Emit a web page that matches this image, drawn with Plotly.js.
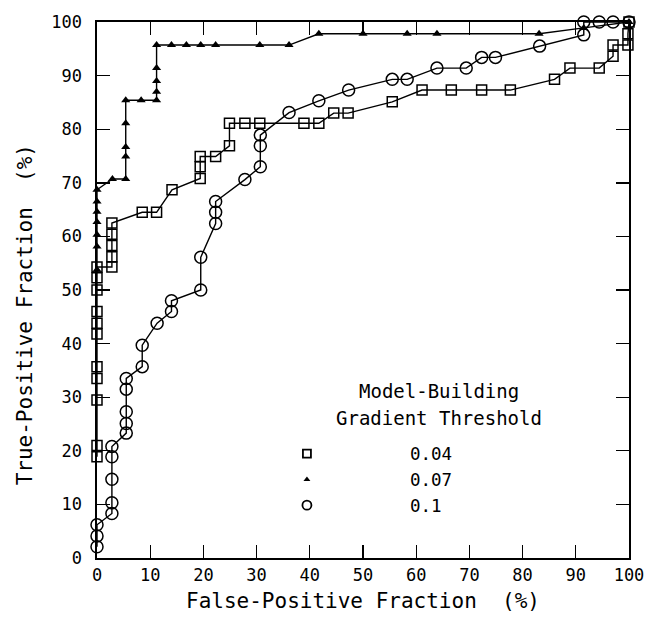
<!DOCTYPE html>
<html>
<head>
<meta charset="utf-8">
<script src="https://cdn.plot.ly/plotly-3.0.1.min.js"></script>
<style>html,body{margin:0;padding:0;background:#fff;}#chart{width:647px;height:619px;}</style>
</head>
<body>
<div id="chart"></div>
<script>
// Threshold 0.04 (open squares)
const sqX = [0, 0, 0, 0, 0, 0, 0, 0, 0, 0, 0, 2.8, 2.8, 2.8, 2.8, 2.8, 8.5, 11.2, 14.1, 19.4, 19.4, 19.4, 22.3, 24.9, 24.9, 27.8, 30.6, 38.9, 41.7, 44.5, 47.2, 55.5, 61.1, 66.6, 72.3, 77.7, 86.0, 88.9, 94.4, 97.0, 97.0, 99.8, 99.8, 100];
const sqY = [18.9, 21.0, 29.5, 33.5, 35.7, 41.8, 43.8, 46.0, 50.0, 52.3, 54.3, 54.3, 56.2, 58.3, 60.4, 62.5, 64.5, 64.5, 68.7, 70.8, 73.0, 74.9, 74.9, 76.9, 81.1, 81.1, 81.1, 81.1, 81.1, 83.0, 83.0, 85.1, 87.3, 87.3, 87.3, 87.3, 89.3, 91.4, 91.4, 93.6, 95.7, 95.7, 97.8, 100];
// Threshold 0.07 (filled triangles)
const trX = [0, 0, 0, 0, 0, 0, 0, 2.9, 5.4, 5.4, 5.4, 5.4, 5.4, 8.3, 11.2, 11.2, 11.2, 11.2, 11.2, 14.0, 16.8, 19.5, 22.3, 30.6, 36.1, 41.7, 50.0, 58.3, 63.9, 83.1, 91.5, 100];
const trY = [53.8, 58.1, 60.3, 62.7, 64.6, 66.5, 68.7, 70.7, 70.7, 74.9, 76.7, 81.1, 85.4, 85.4, 85.4, 87.0, 89.0, 91.4, 95.7, 95.7, 95.7, 95.7, 95.7, 95.7, 95.7, 97.8, 97.8, 97.8, 97.8, 97.8, 98.9, 100];
// Threshold 0.1 (open circles)
const ciX = [0, 0, 0, 2.8, 2.8, 2.8, 2.8, 2.8, 5.5, 5.5, 5.5, 5.5, 5.5, 8.5, 8.5, 11.3, 14.0, 14.0, 19.5, 19.5, 22.3, 22.3, 22.3, 27.8, 30.7, 30.7, 30.7, 36.1, 41.7, 47.3, 55.5, 58.3, 63.9, 69.4, 72.3, 74.9, 83.2, 91.5, 91.5, 94.4, 97.0, 100];
const ciY = [2.1, 4.1, 6.2, 8.3, 10.3, 14.7, 18.9, 20.8, 23.3, 25.1, 27.3, 31.5, 33.5, 35.7, 39.7, 43.8, 46.0, 48.0, 50.0, 56.1, 62.4, 64.5, 66.5, 70.6, 73.0, 76.9, 78.9, 83.1, 85.3, 87.3, 89.3, 89.3, 91.4, 91.4, 93.4, 93.4, 95.5, 97.6, 100, 100, 100, 100];

const seriesNames = ['0.04', '0.07', '0.1'];
const xTicks = [0, 10, 20, 30, 40, 50, 60, 70, 80, 90, 100];
const yTicks = [0, 10, 20, 30, 40, 50, 60, 70, 80, 90, 100];
const legendTitle = ['Model-Building', 'Gradient Threshold'];
const xTitle = 'False-Positive Fraction  (%)';
const yTitle = 'True-Positive Fraction  (%)';

const FONT = 'DejaVu Sans Mono, Liberation Mono, monospace';
const line = {color: '#000', width: 1.4};

const traces = [
  {x: sqX, y: sqY, mode: 'lines+markers', line: line, showlegend: false, cliponaxis: false,
   marker: {symbol: 'square-open', size: 10, color: '#000', line: {width: 1.5, color: '#000'}}},
  {x: trX, y: trY, mode: 'lines+markers', line: line, showlegend: false, cliponaxis: false,
   marker: {symbol: 'triangle-up', size: 8, color: '#000', line: {width: 0}}},
  {x: ciX, y: ciY, mode: 'lines+markers', line: line, showlegend: false, cliponaxis: false,
   marker: {symbol: 'circle-open', size: 12, color: '#000', line: {width: 1.5, color: '#000'}}},
  // legend entries
  {x: [null], y: [null], mode: 'markers', name: seriesNames[0], showlegend: true,
   marker: {symbol: 'square-open', size: 8, color: '#000', line: {width: 1.8, color: '#000'}}},
  {x: [null], y: [null], mode: 'markers', name: seriesNames[1], showlegend: true,
   marker: {symbol: 'triangle-up', size: 6, color: '#000', line: {width: 0}}},
  {x: [null], y: [null], mode: 'markers', name: seriesNames[2], showlegend: true,
   marker: {symbol: 'circle-open', size: 9, color: '#000', line: {width: 1.8, color: '#000'}}}
];

const axisCommon = {
  range: [0, 100], autorange: false, showgrid: false, zeroline: false,
  showline: true, linecolor: '#000', linewidth: 1.6, mirror: 'ticks',
  ticks: 'inside', ticklen: 13, tickwidth: 1.4, tickcolor: '#000',
  tickfont: {family: FONT, size: 17, color: '#000'}
};

const layout = {
  width: 647, height: 619,
  margin: {l: 97, r: 18, t: 22, b: 61},
  paper_bgcolor: '#fff', plot_bgcolor: '#fff',
  font: {family: FONT, color: '#000'},
  xaxis: Object.assign({}, axisCommon, {
    tickvals: xTicks, ticktext: xTicks.map(String), ticklabelstandoff: 1
  }),
  yaxis: Object.assign({}, axisCommon, {
    tickvals: yTicks, ticktext: yTicks.map(String), ticklabelstandoff: 10
  }),
  showlegend: true,
  legend: {
    x: 0.201, y: 0.228, xanchor: 'left', yanchor: 'top',
    bgcolor: 'rgba(0,0,0,0)', borderwidth: 0,
    itemwidth: 196, tracegroupgap: 0,
    font: {family: FONT, size: 17.5, color: '#000'}
  },
  annotations: [
    {xref: 'paper', yref: 'paper', x: 0.643, y: 0.3116, text: legendTitle[0], showarrow: false,
     xanchor: 'center', yanchor: 'middle', font: {family: FONT, size: 19, color: '#000'}},
    {xref: 'paper', yref: 'paper', x: 0.643, y: 0.261, text: legendTitle[1], showarrow: false,
     xanchor: 'center', yanchor: 'middle', font: {family: FONT, size: 19, color: '#000'}},
    {xref: 'paper', yref: 'paper', x: 0.5, y: -0.08, text: xTitle, showarrow: false,
     xanchor: 'center', yanchor: 'middle', font: {family: FONT, size: 21, color: '#000'}},
    {xref: 'paper', yref: 'paper', x: -0.135, y: 0.453, text: yTitle, showarrow: false, textangle: -90,
     xanchor: 'center', yanchor: 'middle', font: {family: FONT, size: 21, color: '#000'}}
  ]
};

Plotly.newPlot('chart', traces, layout, {staticPlot: true, displayModeBar: false});
</script>
</body>
</html>
